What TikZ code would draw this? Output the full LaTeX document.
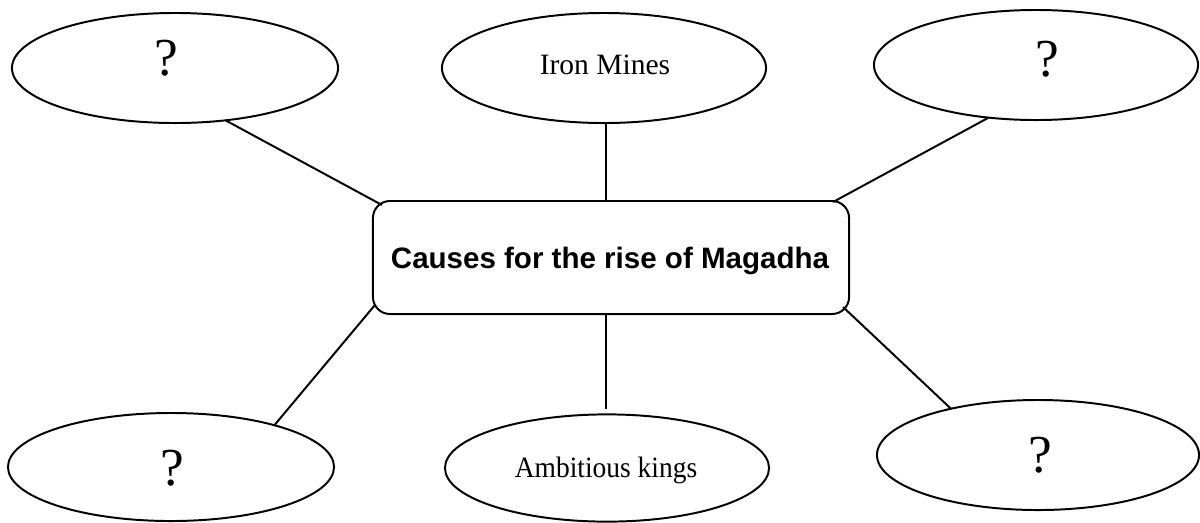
\documentclass[tikz,border=0pt]{standalone}
\usepackage{fontspec}
\setmainfont{Liberation Serif}
\newfontfamily\boxfont{Liberation Sans}
\usetikzlibrary{shapes.geometric,calc}
\tikzset{
  oval/.style={draw, ellipse, line width=1.4pt, inner sep=0pt, outer sep=0pt},
  qtext/.style={anchor=base, inner sep=0pt, font=\fontsize{38}{40}\selectfont},
  ltext/.style={anchor=base, inner sep=0pt, font=\fontsize{21}{24}\selectfont},
  mainbox/.style={draw, rounded corners=0.425cm, line width=1.4pt, inner sep=0pt, outer sep=0pt,
    minimum width=11.9cm, minimum height=2.825cm},
  conn/.style={line width=1.4pt}
}
\begin{document}
\begin{tikzpicture}[x=0.025cm, y=-0.025cm]
\useasboundingbox (0,0) rectangle (1200,522);
% ellipses
\node[oval, minimum width=8.15cm, minimum height=2.75cm] (tl) at (175,68) {};
\node[oval, minimum width=8.1cm, minimum height=2.75cm] (tm) at (604,68) {};
\node[oval, minimum width=8.1cm, minimum height=2.75cm] (tr) at (1036,65) {};
\node[oval, minimum width=8.15cm, minimum height=2.7cm] (bl) at (171,467) {};
\node[oval, minimum width=8.1cm, minimum height=2.68cm] (bm) at (607,468) {};
\node[oval, minimum width=8.05cm, minimum height=2.75cm] (br) at (1038,455) {};
% texts
\node[qtext] (tlq) at (166,75) {?};
\node[qtext] (trq) at (1047,76) {?};
\node[qtext] (blq) at (172,485) {?};
\node[qtext] (brq) at (1040,472) {?};
\node[ltext] (tmt) at (605,74) {Iron Mines};
\node[ltext] (bmt) at (606,477) {\scalebox{0.93}[1]{Ambitious kings}};
% central box
\node[mainbox] (box) at (611,257.5) {};
\node[anchor=base, inner sep=0pt, font=\boxfont\bfseries\fontsize{21}{24}\selectfont] (boxt) at (610,268) {Causes for the rise of Magadha};
% connectors
\draw[conn] (tl.-46.7) -- ($(box.north west)+(9,4)$);
\draw[conn] (tm.south -| 606,0) -- (box.north -| 606,0);
\draw[conn] (tr.-132.8) -- ($(box.north east)+(-16,1)$);
\draw[conn] (bl.22.4) -- ($(box.south west)+(2,-9)$);
\draw[conn, shorten >=0.125cm] (box.south -| 606,0) -- (bm.north -| 606,0);
\draw[conn] (br.152.9) -- ($(box.south east)+(-6,-7)$);
\end{tikzpicture}
\end{document}
